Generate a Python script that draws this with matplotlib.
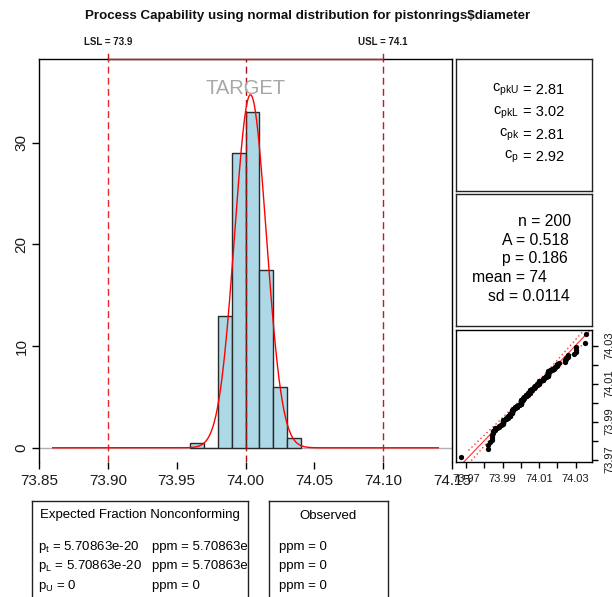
import matplotlib
matplotlib.use('Agg')
import matplotlib.pyplot as plt
import numpy as np
from statistics import NormalDist

plt.rcParams['font.family'] = ['Liberation Sans', 'DejaVu Sans']
plt.rcParams['mathtext.fontset'] = 'custom'
plt.rcParams['mathtext.rm'] = 'Liberation Sans'
plt.rcParams['mathtext.it'] = 'Liberation Sans'

# ---------------- data ----------------
diameter = [
    74.030, 74.002, 74.019, 73.992, 74.008, 73.995, 73.992, 74.001, 74.010, 74.004,
    73.988, 74.024, 74.021, 74.005, 74.002, 74.002, 73.996, 73.993, 74.015, 74.009,
    73.992, 74.007, 74.015, 73.989, 74.014, 74.009, 73.994, 73.997, 73.985, 73.993,
    73.995, 74.006, 73.994, 74.000, 74.005, 73.985, 74.003, 73.993, 74.015, 73.988,
    74.008, 73.995, 74.009, 74.005, 74.004, 73.998, 74.000, 73.990, 74.007, 73.995,
    73.994, 73.998, 73.994, 73.995, 73.990, 74.004, 74.000, 74.007, 74.000, 73.996,
    73.983, 74.002, 73.998, 73.997, 74.012, 74.006, 73.967, 73.994, 74.000, 73.984,
    74.012, 74.014, 73.998, 73.999, 74.007, 74.000, 73.984, 74.005, 73.998, 73.996,
    73.994, 74.012, 73.986, 74.005, 74.007, 74.006, 74.010, 74.018, 74.003, 74.000,
    73.984, 74.002, 74.003, 74.005, 73.997, 74.000, 74.010, 74.013, 74.020, 74.003,
    73.982, 74.001, 74.015, 74.005, 73.996, 74.004, 73.999, 73.990, 74.006, 74.009,
    74.010, 73.989, 73.990, 74.009, 74.014, 74.015, 74.008, 73.993, 74.000, 74.010,
    73.982, 73.984, 73.995, 74.017, 74.013, 74.012, 74.015, 74.030, 73.986, 74.000,
    73.995, 74.010, 73.990, 74.015, 74.001, 73.987, 73.999, 73.985, 74.000, 73.990,
    74.008, 74.010, 74.003, 73.991, 74.006, 74.003, 74.000, 74.001, 73.986, 73.997,
    73.994, 74.003, 74.015, 74.020, 74.004, 74.008, 74.002, 74.018, 73.995, 74.005,
    74.001, 74.004, 73.990, 73.996, 73.998, 74.015, 74.000, 74.016, 74.025, 74.000,
    74.030, 74.005, 74.000, 74.016, 74.012, 74.001, 73.990, 73.995, 74.010, 74.024,
    74.015, 74.020, 74.024, 74.005, 74.019, 74.035, 74.010, 74.012, 74.015, 74.026,
    74.017, 74.013, 74.036, 74.025, 74.026, 74.010, 74.005, 74.029, 74.000, 74.020,
]
LSL, USL, TARGET = 73.9, 74.1, 74.0
bin_edges = [73.96, 73.97, 73.98, 73.99, 74.00, 74.01, 74.02, 74.03, 74.04]
hist_xticks = [73.85, 73.90, 73.95, 74.00, 74.05, 74.10, 74.15]
hist_yticks = [0, 10, 20, 30]
qq_ticks = [73.97, 73.98, 73.99, 74.00, 74.01, 74.02, 74.03]
qq_labelled = [73.97, 73.99, 74.01, 74.03]

cp_rows = [(r'$\mathregular{c_{pkU}}$', '2.81'),
           (r'$\mathregular{c_{pkL}}$', '3.02'),
           (r'$\mathregular{c_{pk}}$', '2.81'),
           (r'$\mathregular{c_{p}}$', '2.92')]
stat_rows = [('n', '200'), ('A', '0.518'), ('p', '0.186'),
             ('mean', '74'), ('sd', '0.0114')]
exp_rows = [(r'$\mathregular{p_t}$', '5.70863e-20', '5.70863e-14'),
            (r'$\mathregular{p_L}$', '5.70863e-20', '5.70863e-14'),
            (r'$\mathregular{p_U}$', '0', '0')]
obs_rows = ['0', '0', '0']

data = np.array(diameter)
mu = data.mean()
sd = data.std(ddof=1)
dist = NormalDist(mu, sd)

W, H = 612, 597
fig = plt.figure(figsize=(W / 100, H / 100), dpi=100)


def rect(x0, y0, x1, y1):
    return [x0 / W, 1 - y1 / H, (x1 - x0) / W, (y1 - y0) / H]


RED = '#e8262b'

# ---------------- main histogram ----------------
ax = fig.add_axes(rect(39, 59, 452, 462))
eps = 1e-9
ax.hist(data, bins=np.array(bin_edges) + eps, density=True, color='#add8e6',
        edgecolor='#2a2a2a', linewidth=1, zorder=2)
ax.axhline(0, color='#b0b0b0', lw=1, zorder=1)
xs = np.linspace(73.86, 74.14, 500)
ax.plot(xs, [dist.pdf(x) for x in xs], color='#ff0000', lw=1, zorder=4)
for v, c in [(LSL, RED), (USL, '#c81818'), (TARGET, '#b01010')]:
    ax.axvline(v, color=c, lw=1, dashes=(5, 3), zorder=3)
ax.text(TARGET, 35.3, 'TARGET', color='#a8a8a8', fontsize=14.5,
        ha='center', va='center', zorder=5)
ax.set_xlim(73.85, 74.15)
ax.set_ylim(-1.4, 38.25)
ax.set_xticks(hist_xticks)
ax.set_xticklabels([f'{t:.2f}' for t in hist_xticks])
ax.set_yticks(hist_yticks)
ax.set_yticklabels([str(t) for t in hist_yticks], rotation=90, va='center')
ax.tick_params(direction='out', length=5, width=1, labelsize=11, pad=3.5,
               colors='black')
ax.tick_params(axis='y', pad=2.5)
for lab in ax.get_xticklabels() + ax.get_yticklabels():
    lab.set_color('#1a1a1a')
ax.spines['top'].set_visible(False)
ax.spines['bottom'].set_visible(False)
for s in ['left', 'right']:
    ax.spines[s].set_linewidth(1)
# top axis with spec limits
trans = ax.get_xaxis_transform()
ax.plot([73.85, 74.15], [1, 1], transform=trans, color='black', lw=1,
        clip_on=False, zorder=6)
ax.plot([LSL, USL], [1, 1], transform=trans, color='#c81818', lw=1,
        clip_on=False, zorder=7)
for v, lab in [(LSL, 'LSL = 73.9'), (USL, 'USL = 74.1')]:
    ax.plot([v, v], [1, 1.013], transform=trans, color='#c81818', lw=1,
            clip_on=False)
    ax.text(v, 1.043, lab, transform=trans, ha='center', va='center',
            fontsize=7, fontweight='bold', color='#1a1a1a')

fig.text(308 / W, 1 - 16 / H,
         'Process Capability using normal distribution for pistonrings$diameter',
         ha='center', va='center', fontsize=9.6, fontweight='bold',
         color='#111111')


def box_axes(x0, y0, x1, y1):
    b = fig.add_axes(rect(x0, y0, x1, y1))
    b.set_xlim(x0, x1)
    b.set_ylim(y1, y0)
    b.set_xticks([])
    b.set_yticks([])
    for s in b.spines.values():
        s.set_linewidth(1)
        s.set_color('#222222')
    return b


# ---------------- capability box ----------------
b1 = box_axes(455.5, 59, 591.5, 191.5)
for (lab, val), y in zip(cp_rows, [90, 112.5, 135, 157]):
    b1.text(519, y, lab, ha='right', va='center', fontsize=10.5)
    b1.text(523, y, '= ' + val, ha='left', va='center', fontsize=10.5)

# ---------------- stats box ----------------
b2 = box_axes(455.5, 194, 591.5, 326)
for (lab, val), y, x in zip(stat_rows, [221.5, 240.5, 259, 278, 297],
                            [518, 502, 502, 472, 488]):
    b2.text(x, y, f'{lab} = {val}', ha='left', va='center', fontsize=11.3)

# ---------------- qq plot ----------------
aq = fig.add_axes(rect(455.5, 329.5, 591.5, 462))
n = len(data)
sx = np.sort(data)
probs = (np.arange(1, n + 1) - 0.5) / n
theo = np.array([dist.inv_cdf(p) for p in probs])
zq = np.array([NormalDist().inv_cdf(p) for p in probs])
band = 1.96 * sd * np.sqrt(1 / n + zq ** 2 / (2 * n))
aq.plot(theo, theo + band, color='#ff3030', lw=1, ls=(0, (1, 2)), zorder=2)
aq.plot(theo, theo - band, color='#ff3030', lw=1, ls=(0, (1, 2)), zorder=2)
aq.plot(sx, theo, 'o', color='black', markersize=3.8, markeredgewidth=0,
        zorder=3)
aq.axline((mu, mu), slope=1, color='#ff3030', lw=0.8, zorder=2)
rx = sx.max() - sx.min()
ry = theo.max() - theo.min()
aq.set_xlim(sx.min() - 0.04 * rx, sx.max() + 0.04 * rx)
aq.set_ylim(theo.min() - 0.04 * ry, theo.max() + 0.04 * ry)
aq.set_xticks(qq_ticks)
aq.set_xticklabels([f'{t:.2f}' if t in qq_labelled else '' for t in qq_ticks])
aq.set_yticks(qq_ticks)
aq.set_yticklabels([f'{t:.2f}' if t in qq_labelled else '' for t in qq_ticks],
                   rotation=90, va='center')
aq.yaxis.tick_right()
aq.tick_params(direction='out', length=4, width=1, labelsize=8, colors='black')
aq.tick_params(axis='x', pad=5)
aq.tick_params(axis='y', pad=5)
for lab in aq.get_xticklabels() + aq.get_yticklabels():
    lab.set_color('#1a1a1a')
for s in aq.spines.values():
    s.set_linewidth(1)

# ---------------- bottom boxes ----------------
FS_B = 9.5
b3 = box_axes(32, 501, 248, 650)
b3.text(140, 515, 'Expected Fraction Nonconforming', ha='center',
        va='center', fontsize=FS_B, clip_on=True)
for (lab, pv, ppm), y in zip(exp_rows, [547, 566.5, 586.5]):
    b3.text(38, y, f'{lab} = {pv}', ha='left', va='center', fontsize=FS_B,
            clip_on=True)
    b3.text(151.5, y, f'ppm = {ppm}', ha='left', va='center', fontsize=FS_B,
            clip_on=True)

b4 = box_axes(269, 501, 388, 650)
b4.text(328, 516, 'Observed', ha='center', va='center', fontsize=FS_B,
        clip_on=True)
for val, y in zip(obs_rows, [547, 566.5, 586.5]):
    b4.text(279, y, f'ppm = {val}', ha='left', va='center', fontsize=FS_B,
            clip_on=True)

fig.savefig('out.png', dpi=100)
